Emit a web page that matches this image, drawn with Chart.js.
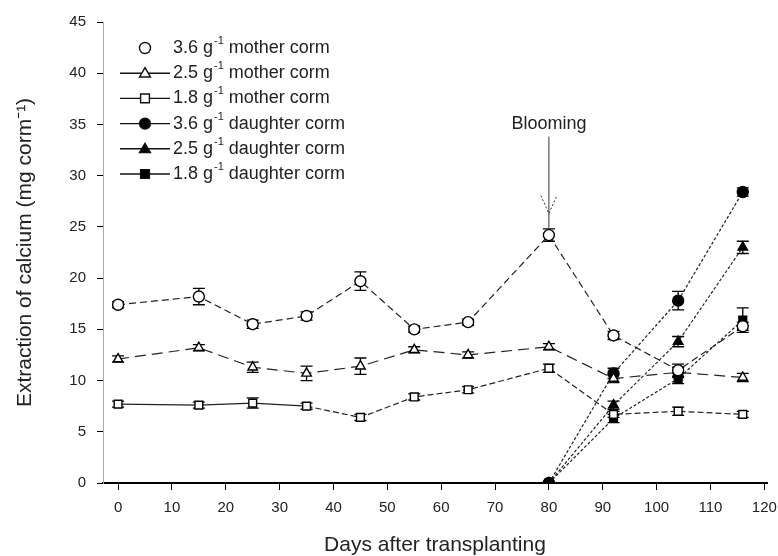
<!DOCTYPE html>
<html>
<head>
<meta charset="utf-8">
<script src="https://cdn.jsdelivr.net/npm/chart.js@4.4.1/dist/chart.umd.min.js"></script>
<style>
  html, body { margin: 0; padding: 0; background: #fff; }
  #wrap { width: 778px; height: 556px; }
</style>
</head>
<body>
<div id="wrap"><canvas id="calciumChart" width="778" height="556"></canvas></div>
<script>
// days of sampling
const motherDays = [0, 15, 25, 35, 45, 55, 65, 80, 92, 104, 116];
const daughterDays = [80, 92, 104, 116];

// calcium extraction (mg corm-1)
const mother36 = [17.4, 18.2, 15.5, 16.3, 19.7, 15.0, 15.7, 24.2, 14.4, 11.0, 15.3];
const mother25 = [12.1, 13.2, 11.3, 10.7, 11.4, 13.0, 12.5, 13.3, 10.2, 10.8, 10.3];
const mother18 = [7.7, 7.6, 7.8, 7.5, 6.4, 8.4, 9.1, 11.2, 6.7, 7.0, 6.7];
const daughter36 = [0, 10.7, 17.8, 28.4];
const daughter25 = [0, 7.6, 13.8, 23.0];
const daughter18 = [0, 6.3, 10.2, 15.9];

// standard errors (approx.)
const mother36Err = [0.3, 0.8, 0.4, 0.4, 0.9, 0.3, 0.3, 0.6, 0.4, 0.6, 0.4];
const mother25Err = [0.3, 0.3, 0.5, 0.7, 0.8, 0.3, 0.3, 0.3, 0.4, 0.5, 0.4];
const mother18Err = [0.3, 0.3, 0.5, 0.3, 0.3, 0.3, 0.3, 0.4, 0.3, 0.4, 0.3];
const daughter36Err = [0, 0.5, 0.9, 0.4];
const daughter25Err = [0, 0.4, 0.5, 0.6];
const daughter18Err = [0, 0.4, 0.5, 1.2];

const yTicks = [0, 5, 10, 15, 20, 25, 30, 35, 40, 45];
const xTicks = [0, 10, 20, 30, 40, 50, 60, 70, 80, 90, 100, 110, 120];

const legendLabels = [
  ["3.6 g", "-1", " mother corm"],
  ["2.5 g", "-1", " mother corm"],
  ["1.8 g", "-1", " mother corm"],
  ["3.6 g", "-1", " daughter corm"],
  ["2.5 g", "-1", " daughter corm"],
  ["1.8 g", "-1", " daughter corm"],
];

const bloomDay = 80;
const bloomLabel = "Blooming";

const FONT = "'Liberation Sans', Arial, sans-serif";

function toPoints(xs, ys) {
  return xs.map((x, i) => ({ x: x, y: ys[i] }));
}

function series(xs, ys, errs, style, filled, dash) {
  return {
    data: toPoints(xs, ys),
    errors: errs,
    pointStyle: style,
    pointRadius: 5.5,
    pointBackgroundColor: filled ? "#000" : "#fff",
    pointBorderColor: "#000",
    pointBorderWidth: 1.4,
    borderColor: "#222",
    borderWidth: 1.2,
    borderDash: dash,
    fill: false,
    tension: 0,
  };
}

const datasets = [
  series(motherDays, mother36, mother36Err, "circle", false, [7, 4]),
  series(motherDays, mother25, mother25Err, "triangle", false, [11, 6]),
  series(motherDays, mother18, mother18Err, "rect", false, [6, 3]),
  series(daughterDays, daughter36, daughter36Err, "circle", true, [3, 2]),
  series(daughterDays, daughter25, daughter25Err, "triangle", true, [3, 2]),
  series(daughterDays, daughter18, daughter18Err, "rect", true, [3, 2]),
];
// 1.8 mother corm line is solid over the first weeks
datasets[2].segment = {
  borderDash: (ctx) => (ctx.p1DataIndex <= 3 ? [] : [6, 3]),
};

// error bars drawn through the scales
const errorBars = {
  id: "errorBars",
  beforeDatasetsDraw(chart) {
    const { ctx, scales } = chart;
    ctx.save();
    ctx.strokeStyle = "#000";
    ctx.lineWidth = 1.3;
    chart.data.datasets.forEach((ds) => {
      ds.data.forEach((p, i) => {
        const e = ds.errors[i];
        if (!e) return;
        const x = scales.x.getPixelForValue(p.x);
        const y1 = scales.y.getPixelForValue(p.y - e);
        const y2 = scales.y.getPixelForValue(p.y + e);
        ctx.beginPath();
        ctx.moveTo(x, y1);
        ctx.lineTo(x, y2);
        ctx.moveTo(x - 6, y1);
        ctx.lineTo(x + 6, y1);
        ctx.moveTo(x - 6, y2);
        ctx.lineTo(x + 6, y2);
        ctx.stroke();
      });
    });
    ctx.restore();
  },
};

// blooming arrow and label
const bloomNote = {
  id: "bloomNote",
  afterDatasetsDraw(chart) {
    const { ctx, scales } = chart;
    const x = scales.x.getPixelForValue(bloomDay);
    const yText = scales.y.getPixelForValue(35);
    const yTop = scales.y.getPixelForValue(33.8);
    const yTip = scales.y.getPixelForValue(26.3);
    const yEnd = scales.y.getPixelForValue(24.9);
    ctx.save();
    ctx.fillStyle = "#222";
    ctx.font = "18px " + FONT;
    ctx.textAlign = "center";
    ctx.textBaseline = "middle";
    ctx.fillText(bloomLabel, x, yText);
    ctx.strokeStyle = "#333";
    ctx.lineWidth = 1;
    ctx.beginPath();
    ctx.moveTo(x, yTop);
    ctx.lineTo(x, yEnd);
    ctx.stroke();
    ctx.setLineDash([2, 2]);
    ctx.beginPath();
    ctx.moveTo(x - 8, yTip - 18);
    ctx.lineTo(x, yTip);
    ctx.lineTo(x + 8, yTip - 18);
    ctx.stroke();
    ctx.restore();
  },
};

// legend inside the plot, upper left
const insideLegend = {
  id: "insideLegend",
  afterDraw(chart) {
    const { ctx } = chart;
    const x0 = 120, x1 = 170, xm = 145, xt = 173;
    const top = 48, step = 25.2;
    ctx.save();
    legendLabels.forEach((lab, i) => {
      const ds = chart.data.datasets[i];
      const y = top + i * step;
      ctx.strokeStyle = "#111";
      ctx.lineWidth = 1.4;
      if (i > 0) {
        ctx.beginPath();
        ctx.moveTo(x0, y);
        ctx.lineTo(x1, y);
        ctx.stroke();
      }
      const r = ds.pointRadius;
      ctx.fillStyle = ds.pointBackgroundColor;
      ctx.beginPath();
      if (ds.pointStyle === "circle") {
        ctx.arc(xm, y, r, 0, Math.PI * 2);
      } else if (ds.pointStyle === "triangle") {
        ctx.moveTo(xm, y - r);
        ctx.lineTo(xm + r, y + r * 0.7);
        ctx.lineTo(xm - r, y + r * 0.7);
        ctx.closePath();
      } else {
        ctx.rect(xm - r * 0.8, y - r * 0.8, r * 1.6, r * 1.6);
      }
      ctx.fill();
      ctx.stroke();

      ctx.fillStyle = "#222";
      ctx.textBaseline = "middle";
      ctx.textAlign = "left";
      ctx.font = "18px " + FONT;
      let x = xt;
      ctx.fillText(lab[0], x, y);
      x += ctx.measureText(lab[0]).width + 1;
      ctx.font = "11px " + FONT;
      ctx.fillText(lab[1], x, y - 7);
      x += ctx.measureText(lab[1]).width;
      ctx.font = "18px " + FONT;
      ctx.fillText(lab[2], x, y);
    });
    ctx.restore();
  },
};

const whiteBg = {
  id: "whiteBg",
  beforeDraw(chart) {
    const { ctx } = chart;
    ctx.save();
    ctx.fillStyle = "#fff";
    ctx.fillRect(0, 0, chart.width, chart.height);
    ctx.restore();
  },
};

const tickFont = { family: FONT, size: 15 };

new Chart(document.getElementById("calciumChart"), {
  type: "line",
  data: { datasets },
  plugins: [whiteBg, errorBars, bloomNote, insideLegend],
  options: {
    responsive: false,
    animation: false,
    layout: { padding: { top: 22, right: 11, left: 0, bottom: 0 } },
    plugins: {
      legend: { display: false },
      tooltip: { enabled: false },
    },
    scales: {
      x: {
        type: "linear",
        min: -2.8,
        max: 120.5,
        afterBuildTicks: (axis) => {
          axis.ticks = xTicks.map((v) => ({ value: v }));
        },
        afterFit: (axis) => {
          axis.height = 73;
          axis.paddingLeft = 0;
          axis.paddingRight = 0;
        },
        grid: {
          drawOnChartArea: false,
          drawTicks: true,
          tickLength: 7,
          color: "#000",
        },
        border: { color: "#000", width: 2 },
        ticks: { color: "#222", font: tickFont, padding: 9, maxRotation: 0 },
        title: {
          display: true,
          text: "Days after transplanting",
          color: "#222",
          font: { family: FONT, size: 21, lineHeight: 1 },
          padding: { top: 0, bottom: 0 },
        },
      },
      y: {
        min: 0,
        max: 45,
        afterBuildTicks: (axis) => {
          axis.ticks = yTicks.map((v) => ({ value: v }));
        },
        afterFit: (axis) => {
          axis.width = 103;
          axis.paddingTop = 0;
          axis.paddingBottom = 0;
        },
        grid: {
          drawOnChartArea: false,
          drawTicks: true,
          tickLength: 6,
          color: "#000",
        },
        border: { color: "#aaa", width: 1 },
        ticks: { color: "#222", font: tickFont, padding: 11 },
        title: {
          display: true,
          text: "Extraction of calcium (mg corm\u207B\u00B9)",
          color: "#222",
          font: { family: FONT, size: 21, lineHeight: 1 },
          padding: { top: 15, bottom: 0 },
        },
      },
    },
  },
});
</script>
</body>
</html>
